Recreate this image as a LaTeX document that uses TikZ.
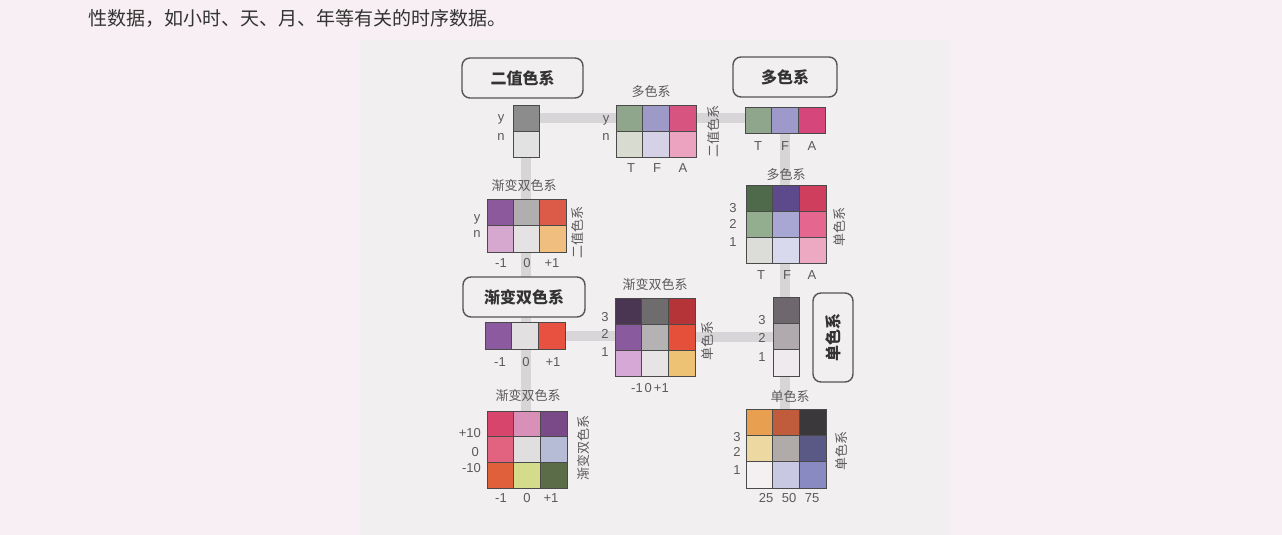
\documentclass[tikz,border=0pt]{standalone}
\usepackage{fontspec}
\setmainfont{Liberation Sans}
\newfontfamily\cjk{Noto Sans CJK SC}
\usetikzlibrary{calc}
\pgfdeclarelayer{bgzero}
\pgfdeclarelayer{bands}
\pgfsetlayers{bgzero,bands,main}
\definecolor{bgpink}{HTML}{F7EFF3}
\definecolor{bgmid}{HTML}{F2EFF0}
\definecolor{band}{HTML}{D7D5D7}
\definecolor{cellline}{HTML}{4A4A4A}
\definecolor{labc}{HTML}{5A5A5A}
\definecolor{boxc}{HTML}{555555}
\newcommand\mkgrid[7]{%
  \foreach \hex [count=\i from 0] in {#7} {%
    \pgfmathtruncatemacro\rr{div(\i,#6)+1}%
    \pgfmathtruncatemacro\cc{mod(\i,#6)+1}%
    \definecolor{tmpc}{HTML}{\hex}%
    \node[cell,minimum width=#4pt,minimum height=#5pt,fill=tmpc] (#1\rr\cc) at ({#2+(\cc-0.5)*#4},{#3+(\rr-0.5)*#5}) {};
  }}
\tikzset{
  cell/.style={draw=cellline,line width=0.8pt,inner sep=0pt,outer sep=0pt},
  lab/.style={text=labc,inner sep=0pt,font=\fontsize{13}{14}\selectfont},
  clab/.style={text=labc,inner sep=0pt,font=\fontsize{13}{14}\selectfont\cjk},
  titlebox/.style={draw=boxc,line width=1.4pt,rounded corners=8pt,fill=bgmid,inner sep=0pt,text=black!80,font=\fontsize{16}{17}\selectfont\cjk\bfseries},
  bandline/.style={draw=band,line width=10pt}
}
\begin{document}
\begin{tikzpicture}[x=1pt,y=-1pt]
\useasboundingbox (0,0) rectangle (1282,535);
\begin{pgfonlayer}{bgzero}
\fill[bgpink] (0,0) rectangle (1282,535);
\fill[bgmid] (360,40) rectangle (950,535);
\end{pgfonlayer}
\node[anchor=west,inner sep=0pt,text=black!80,font=\fontsize{19}{20}\selectfont\cjk] (top) at (88,18) {性数据，如小时、天、月、年等有关的时序数据。};

% grids
\mkgrid{bin}{513}{105}{26}{26}{1}{8C8C8C,E2E2E2}
\mkgrid{tm}{616}{105}{26.67}{26}{3}{8FA58C,9D9AC8,D6547F,D8DBD0,D5D2E8,ECA3C0}
\mkgrid{rl}{745}{107}{26.67}{26}{3}{8FA68C,9D9ACB,D5467B}
\mkgrid{lm}{487}{199}{26.33}{26.5}{3}{8C5A9C,B0AEAE,DC5A48,D6A8D0,E4E2E2,F0BF80}
\mkgrid{rm}{746}{185}{26.67}{26}{3}{4E6A4A,5C4A8C,D03E5E,92AE8E,A8A6D2,E5678F,DCDDD8,D9D9EE,EDA8C2}
\mkgrid{ll}{485}{322}{26.67}{27}{3}{8C5A9E,E2E0E0,E85040}
\mkgrid{cm}{615}{298}{26.67}{26}{3}{4A3552,6E6C6C,B53438,8A5A9E,B4B2B2,E4503A,D6A8D6,E6E4E4,EEC274}
\mkgrid{cl}{773}{297}{26}{26.33}{1}{6E686E,B0AAAE,EEEAEE}
\mkgrid{bl}{487}{411}{26.67}{25.67}{3}{D8456C,D890B8,7A4A88,E2637F,E0DEDE,B6BCD6,E0603C,D4DC8C,5A6C48}
\mkgrid{br}{746}{409}{26.67}{26.33}{3}{E8A050,C05C3C,3A383A,EED8A2,B0AAA8,5A5884,F4F0F2,C8C8E2,8A8AC2}

% title boxes
\node[titlebox,minimum width=121pt,minimum height=40pt] (bbin) at (522.5,78) {二值色系};
\node[titlebox,minimum width=104pt,minimum height=40pt] (bmul) at (785,77) {多色系};
\node[titlebox,minimum width=122pt,minimum height=40pt] (bdiv) at (524,297) {渐变双色系};
\node[titlebox,minimum width=40pt,minimum height=89pt] (bseq) at (833,337.5) {\rotatebox{90}{单色系}};

% connector bands
\begin{pgfonlayer}{bands}
\draw[bandline] (bin11.east) -- (tm11.west);
\draw[bandline] (tm13.east) -- (tm13.east -| rl11.west);
\draw[bandline] (bin21.south) -- (bin21.south |- bl12.north);
\draw[bandline] (rl12.south) -- (rl12.south |- br12.north);
\draw[bandline] (ll13.east) -- (ll13.east -| cm21.west);
\draw[bandline] (cm23.east) -- (cm23.east -| cl21.west);
\end{pgfonlayer}

% labels: binary legend
\node[lab] (by) at (501,119) {y};
\node[lab] (bn) at (501,137) {n};
% top-middle
\node[clab] (tmt) at (651,92) {多色系};
\node[lab] (tmy) at (606,120) {y};
\node[lab] (tmn) at (606,137) {n};
\node[lab] (tmT) at (631,168) {T};
\node[lab] (tmF) at (657,168) {F};
\node[lab] (tmA) at (683,168) {A};
\node[clab,rotate=90] (tmv) at (714,131) {二值色系};
% right legend
\node[lab] (rlT) at (758,146) {T};
\node[lab] (rlF) at (785,146) {F};
\node[lab] (rlA) at (812,146) {A};
% left 3x2
\node[clab] (lmt) at (524,186) {渐变双色系};
\node[lab] (lmy) at (477,219) {y};
\node[lab] (lmn) at (477,234) {n};
\node[lab] (lmc1) at (501,263) {-1};
\node[lab] (lmc2) at (527,263) {0};
\node[lab] (lmc3) at (552,263) {+1};
\node[clab,rotate=90] (lmv) at (578,232) {二值色系};
% right 3x3
\node[clab] (rmt) at (786,175) {多色系};
\node[lab] (rm3) at (733,208) {3};
\node[lab] (rm2) at (733,224) {2};
\node[lab] (rm1) at (733,242) {1};
\node[lab] (rmT) at (761,275) {T};
\node[lab] (rmF) at (787,275) {F};
\node[lab] (rmA) at (812,275) {A};
\node[clab,rotate=90] (rmv) at (840,227) {单色系};
% left single row
\node[lab] (llc1) at (500,362) {-1};
\node[lab] (llc2) at (526,362) {0};
\node[lab] (llc3) at (553,362) {+1};
% center 3x3
\node[clab] (cmt) at (655,285) {渐变双色系};
\node[lab] (cm3) at (605,317) {3};
\node[lab] (cm2) at (605,334) {2};
\node[lab] (cm1) at (605,352) {1};
\node[lab] (cmc) at (650,388) {-1\kern2pt0\kern2pt+1};
\node[clab,rotate=90] (cmv) at (708,341) {单色系};
% column legend
\node[lab] (cl3) at (762,320) {3};
\node[lab] (cl2) at (762,338) {2};
\node[lab] (cl1) at (762,357) {1};
% bottom-left
\node[clab] (blt) at (528,396) {渐变双色系};
\node[lab,anchor=east] (blr1) at (481,433) {+10};
\node[lab,anchor=east] (blr2) at (479,452) {0};
\node[lab,anchor=east] (blr3) at (481,468) {-10};
\node[lab] (blc1) at (501,498) {-1};
\node[lab] (blc2) at (527,498) {0};
\node[lab] (blc3) at (551,498) {+1};
\node[clab,rotate=90] (blv) at (584,448) {渐变双色系};
% bottom-right
\node[clab] (brt) at (790,397) {单色系};
\node[lab] (br3) at (737,437) {3};
\node[lab] (br2) at (737,452) {2};
\node[lab] (br1) at (737,470) {1};
\node[lab] (brc1) at (766,498) {25};
\node[lab] (brc2) at (789,498) {50};
\node[lab] (brc3) at (812,498) {75};
\node[clab,rotate=90] (brv) at (842,451) {单色系};
\end{tikzpicture}
\end{document}
